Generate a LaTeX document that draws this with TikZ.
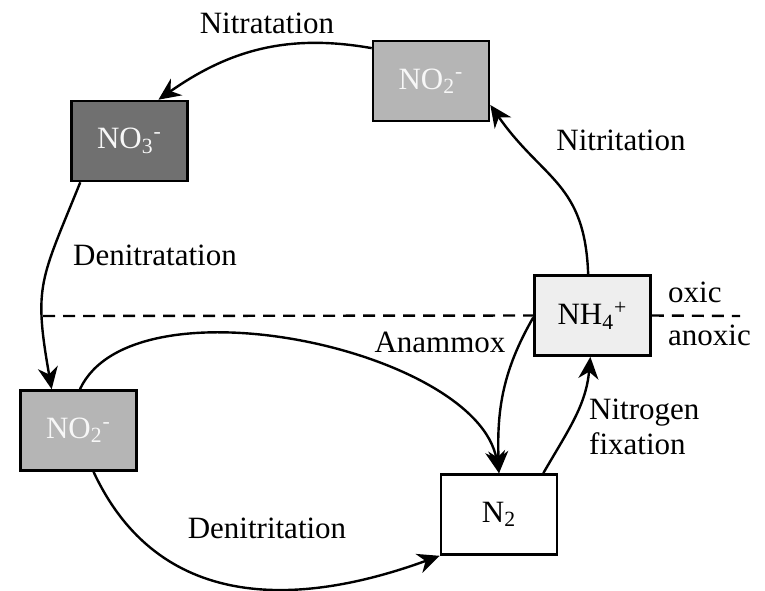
\documentclass[tikz,border=0pt]{standalone}
\usepackage{fontspec}
\setmainfont{Liberation Serif}
\usetikzlibrary{arrows.meta}
\tikzset{>={Stealth[length=11pt,width=10pt,inset=3.5pt]}}
\definecolor{nitrite}{RGB}{181,181,181}
\definecolor{nitrate}{RGB}{112,112,112}
\definecolor{ammonium}{RGB}{238,238,238}

\begin{document}
\begin{tikzpicture}[x=.5pt,y=.5pt,line width=1.2pt,
    species/.style={draw,line width=1.3pt,minimum width=58pt,minimum height=40pt,inner sep=0pt,font=\fontsize{15.5}{18}\selectfont},
    proc/.style={inner sep=0pt,font=\fontsize{15.5}{17.5}\selectfont}]
    \useasboundingbox (0,0) rectangle (765,-590);

    \node[species,fill=nitrite,text=white!94!gray] (no2top) at (431,-81) {NO\textsubscript{2}\textsuperscript{-}};
    \node[species,fill=nitrate,text=white!94!gray] (no3) at (129.5,-141) {NO\textsubscript{3}\textsuperscript{-}};
    \node[species,fill=ammonium] (nh4) at (592.5,-315.5) {NH\textsubscript{4}\textsuperscript{+}};
    \node[species,fill=nitrite,text=white!94!gray] (no2bot) at (78.5,-430.5) {NO\textsubscript{2}\textsuperscript{-}};
    \node[species,fill=white] (n2) at (499,-514.5) {N\textsubscript{2}};

    % oxic / anoxic boundary
    \coordinate (oxl) at (43,-316);
    \coordinate (oxr) at (740,-316);
    \draw[dashed,dash pattern=on 6pt off 4pt] (oxl) -- (nh4.west);
    \draw[dashed,dash pattern=on 6pt off 4pt] (nh4.east) -- (oxr);
    \node[proc,anchor=west] (oxic) at (667,-292) {oxic};
    \node[proc,anchor=west] (anoxic) at (667,-335) {anoxic};

    % conversions
    \draw[->] (no2top.151) to[out=170,in=35] (no3.55);
    \draw[->] (nh4.96) to[out=92,in=-55,looseness=1.2] (no2top.-22);
    \draw[->] (no3.220) to[out=-112,in=100,looseness=1.3] (no2bot.123);
    \draw[->] (no2bot.88) to[out=65,in=100,looseness=.75] (n2.north);
    \draw[->] (nh4.182) to[out=240,in=92] (n2.north);
    \draw[->] (n2.43) to[out=60,in=-95] (nh4.-93);
    \draw[->] (no2bot.-70) to[out=-65,in=200,looseness=1.1] (n2.south west);

    \node[proc] (nitratation) at (267,-23) {Nitratation};
    \node[proc] (nitritation) at (621,-140) {Nitritation};
    \node[proc] (denitratation) at (155,-255) {Denitratation};
    \node[proc] (anammox) at (440,-342) {Anammox};
    \node[proc,align=left,anchor=west] (fixation) at (588,-427) {Nitrogen\\fixation};
    \node[proc] (denitritation) at (267,-528) {Denitritation};
\end{tikzpicture}
\end{document}
